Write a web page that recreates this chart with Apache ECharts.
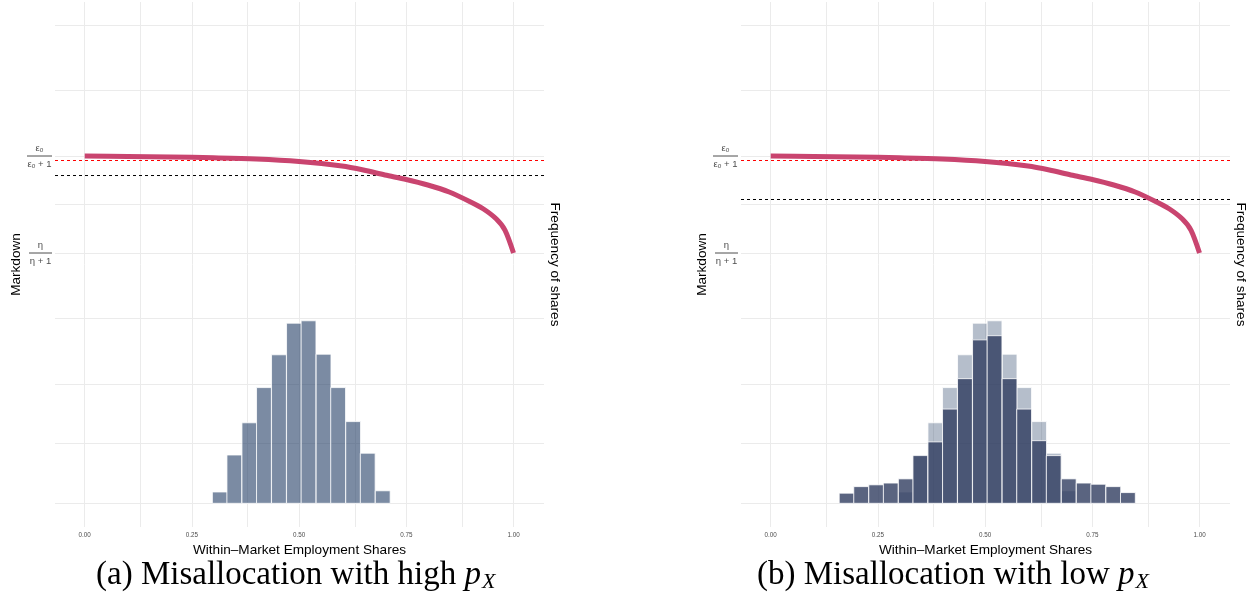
<!DOCTYPE html>
<html><head><meta charset="utf-8">
<script src="https://cdn.jsdelivr.net/npm/echarts@6/dist/echarts.min.js"></script>
<style>html,body{margin:0;padding:0;background:#fff}#c{width:1254px;height:611px}</style>
</head><body><div id="c"></div>
<script>
// ---- data ----
const shares   = [0, 0.1, 0.2, 0.3, 0.4, 0.5, 0.6, 0.65, 0.7, 0.75, 0.8, 0.85, 0.9, 0.93, 0.96, 0.98, 1.0];
const markdown = [0.900, 0.8984, 0.8959, 0.8926, 0.8876, 0.8773, 0.8588, 0.8423, 0.8216, 0.8031, 0.7804, 0.7515, 0.7103, 0.6814, 0.6402, 0.5948, 0.500];
const epsLevel = 0.9;   // eps_o/(eps_o+1)
const etaLevel = 0.5;   // eta/(eta+1)
const redLevel = 0.8814;
const blackLevelA = 0.8195;
const blackLevelB = 0.7206;
const xTickValues = [0, 0.25, 0.5, 0.75, 1];
const xGridValues = [0, 0.125, 0.25, 0.375, 0.5, 0.625, 0.75, 0.875, 1];
const markdownGrid = [1.44, 1.17, 0.9, 0.7, 0.5, 0.232];
const freqGrid = [0, 100, 200];
const binCenters = [0.177, 0.211, 0.246, 0.280, 0.315, 0.349, 0.384, 0.418, 0.453, 0.488, 0.522, 0.557, 0.591, 0.626, 0.660, 0.695, 0.730, 0.764, 0.799, 0.833];
const binWidth = 0.0346;
const countsHigh = [null, null, null, null, 19, 81, 135, 194, 249, 302, 306, 250, 194, 137, 84, 21, null, null, null, null];
const countsLow  = [17, 28, 31, 34, 41, 80, 103, 158, 209, 274, 281, 209, 158, 105, 80, 41, 34, 32, 28, 18];
const captions = ['(a) Misallocation with high ', '(b) Misallocation with low '];

// ---- layout ----
const xMin = -0.0693, xMax = 1.0711;
const mdMin = -0.6299, mdMax = 1.5351;
const fMin = -39.7, fMax = 840.4;
const gridLeft = [55, 741];
const FONT = 'Liberation Sans';
const gridColor = '#ebebeb';

function histItem(fill) {
  return function (params, api) {
    const c = api.value(0), n = api.value(1);
    const p0 = api.coord([c - binWidth / 2, n]);
    const p1 = api.coord([c + binWidth / 2, 0]);
    return { type: 'rect',
      shape: { x: p0[0], y: p0[1], width: p1[0] - p0[0], height: p1[1] - p0[1] },
      style: { fill: fill, stroke: '#ffffff', lineWidth: 0.8 } };
  };
}
function histData(counts) {
  return binCenters.map((c, i) => [c, counts[i]]).filter(d => d[1] != null);
}
function gridMarks(values, z) {
  const ls = { color: gridColor, width: 1, type: 'solid', opacity: 1 };
  return { symbol: ['none', 'none'], silent: true, z: z, label: { show: false }, animation: false,
    emphasis: { disabled: true }, lineStyle: ls,
    data: values.map(v => Object.assign({ lineStyle: ls }, v)) };
}
// dashed horizontal reference line drawn as a line series across the x range
function refLine(g, level, color, width) {
  return { type: 'line', xAxisIndex: g, yAxisIndex: g * 2, z: 4, silent: true,
    data: [[xMin, level], [xMax, level]], showSymbol: false, symbol: 'none',
    lineStyle: { color: color, width: width, type: [3, 3], cap: 'butt' }, emphasis: { disabled: true } };
}

const grids = [], xAxes = [], yAxes = [], series = [];
[0, 1].forEach(g => {
  grids.push({ left: gridLeft[g], top: 2, width: 489, height: 525, containLabel: false });
  xAxes.push({ gridIndex: g, type: 'value', min: xMin, max: xMax,
    axisLine: { show: false }, axisTick: { show: false }, splitLine: { show: false },
    axisLabel: { customValues: xTickValues, formatter: v => v.toFixed(2), fontSize: 6.3, color: '#4d4d4d', margin: 5, fontFamily: FONT },
    name: 'Within\u2013Market Employment Shares', nameLocation: 'middle', nameGap: 13,
    nameTextStyle: { fontSize: 13.6, color: '#000', fontFamily: FONT } });
  yAxes.push({ gridIndex: g, type: 'value', min: mdMin, max: mdMax,
    axisLine: { show: false }, axisTick: { show: false }, splitLine: { show: false },
    axisLabel: { customValues: [etaLevel, epsLevel], margin: 3,
      formatter: v => Math.abs(v - epsLevel) < 1e-6 ? '{n|\u03b5\u2092}\n{b1| }\n{d|\u03b5\u2092 + 1}' : '{n|\u03b7}\n{b2| }\n{d|\u03b7 + 1}',
      rich: {
        n: { fontSize: 9.5, color: '#4d4d4d', lineHeight: 11, align: 'center', fontFamily: FONT },
        d: { fontSize: 9.5, color: '#4d4d4d', lineHeight: 11, align: 'center', fontFamily: FONT },
        b1: { fontSize: 1, width: 25, height: 1, lineHeight: 5, backgroundColor: '#4d4d4d', align: 'center' },
        b2: { fontSize: 1, width: 23, height: 1, lineHeight: 5, backgroundColor: '#4d4d4d', align: 'center' }
      } },
    name: 'Markdown', nameLocation: 'middle', nameGap: 31, nameRotate: 90,
    nameTextStyle: { fontSize: 13.6, color: '#000', fontFamily: FONT } });
  yAxes.push({ gridIndex: g, type: 'value', position: 'right', min: fMin, max: fMax,
    axisLine: { show: false }, axisTick: { show: false }, splitLine: { show: false }, axisLabel: { show: false },
    name: 'Frequency of shares', nameLocation: 'middle', nameGap: 4, nameRotate: -90,
    nameTextStyle: { fontSize: 13.6, color: '#000', fontFamily: FONT } });

  const yMd = g * 2, yF = g * 2 + 1;
  // background grid lines (under everything)
  series.push({ type: 'line', xAxisIndex: g, yAxisIndex: yMd, data: [], z: 0, silent: true,
    markLine: gridMarks(xGridValues.map(v => ({ xAxis: v })).concat(markdownGrid.map(v => ({ yAxis: v }))), 0) });
  series.push({ type: 'line', xAxisIndex: g, yAxisIndex: yF, data: [], z: 0, silent: true,
    markLine: gridMarks(freqGrid.map(v => ({ yAxis: v })), 0) });
  // histograms
  if (g === 0) {
    series.push({ type: 'custom', xAxisIndex: g, yAxisIndex: yF, z: 2, silent: true,
      renderItem: histItem('rgba(42,68,107,0.62)'), data: histData(countsHigh), encode: { x: 0, y: 1 } });
  } else {
    series.push({ type: 'custom', xAxisIndex: g, yAxisIndex: yF, z: 2, silent: true,
      renderItem: histItem('rgba(42,68,107,0.35)'), data: histData(countsHigh), encode: { x: 0, y: 1 } });
    series.push({ type: 'custom', xAxisIndex: g, yAxisIndex: yF, z: 3, silent: true,
      renderItem: histItem('rgba(44,57,92,0.78)'), data: histData(countsLow), encode: { x: 0, y: 1 } });
  }
  // dashed reference lines
  series.push(refLine(g, redLevel, '#ff0000', 1.2));
  series.push(refLine(g, g === 0 ? blackLevelA : blackLevelB, '#000000', 1));
  // markdown curve
  series.push({ type: 'line', xAxisIndex: g, yAxisIndex: yMd, z: 6, silent: true,
    data: shares.map((s, i) => [s, markdown[i]]), smooth: 0.3, showSymbol: false, symbol: 'none',
    lineStyle: { color: '#c9446f', width: 5, cap: 'butt' } });
});

const chart = echarts.init(document.getElementById('c'), null, { renderer: 'canvas' });
chart.setOption({
  animation: false,
  backgroundColor: '#ffffff',
  grid: grids, xAxis: xAxes, yAxis: yAxes, series: series,
  graphic: [0, 1].map(g => ({
    type: 'text', left: g === 0 ? 96 : 757, top: 559,
    style: { text: '{c|' + captions[g] + '}{p|p}{s|X}',
      rich: {
        c: { fontSize: 33, fontFamily: 'Liberation Serif', fill: '#000', lineHeight: 36 },
        p: { fontSize: 33, fontFamily: 'Liberation Serif', fontStyle: 'italic', fill: '#000', lineHeight: 36 },
        s: { fontSize: 22, fontFamily: 'Liberation Serif', fontStyle: 'italic', fill: '#000', lineHeight: 22, verticalAlign: 'bottom', padding: [0, 0, 0, 1] }
      } }
  }))
});
</script></body></html>
